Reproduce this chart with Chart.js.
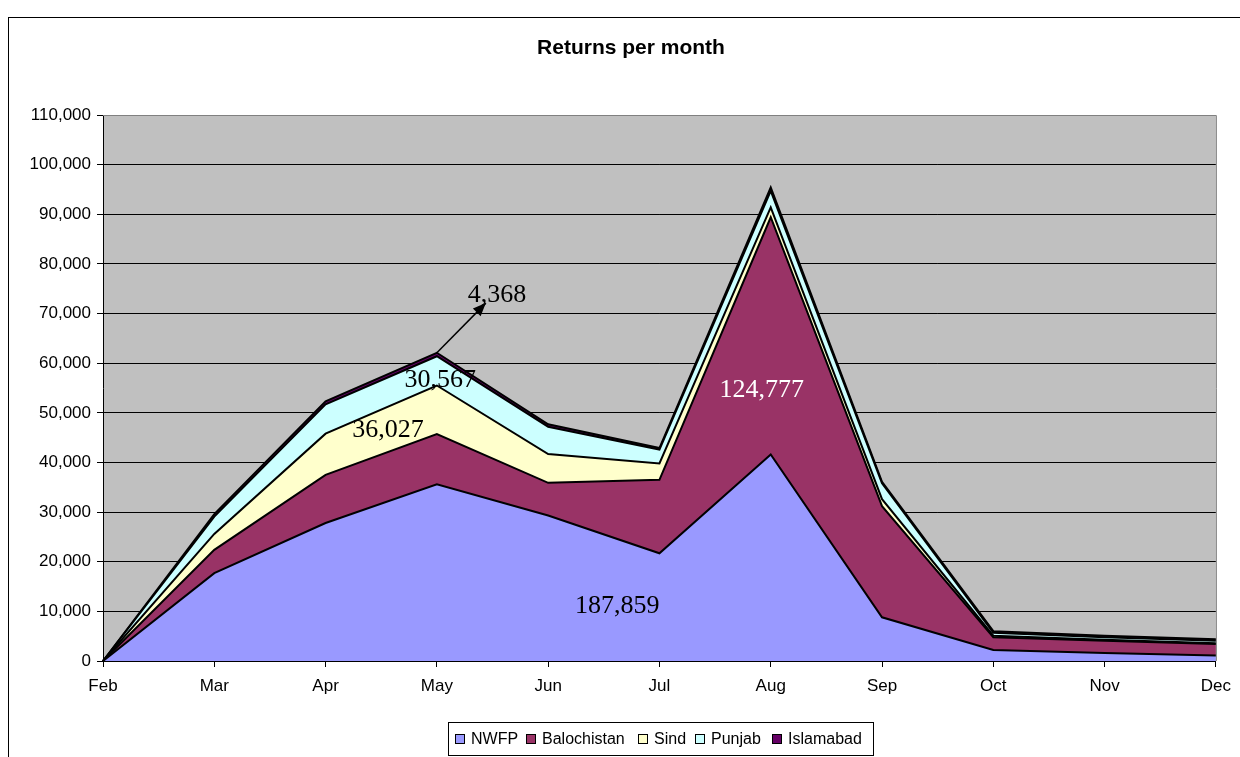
<!DOCTYPE html>
<html>
<head>
<meta charset="utf-8">
<script src="https://cdn.jsdelivr.net/npm/chart.js@4.4.1/dist/chart.umd.min.js"></script>
<style>
  html, body { margin: 0; padding: 0; background: #fff; }
  #wrap { width: 1240px; height: 757px; position: relative; }
</style>
</head>
<body>
<div id="wrap"><canvas id="returns" width="1240" height="757"></canvas></div>
<script>
const months = ['Feb', 'Mar', 'Apr', 'May', 'Jun', 'Jul', 'Aug', 'Sep', 'Oct', 'Nov', 'Dec'];

const nwfp        = [0, 17700, 27800, 35600, 29300, 21700, 41600, 8800, 2200, 1600, 1100];
const balochistan = [0, 4700, 9700, 10100, 6600, 14800, 47800, 22400, 2600, 2500, 2300];
const sind        = [0, 3200, 8300, 9800, 5800, 3300, 2000, 1400, 300, 200, 200];
const punjab      = [0, 3500, 5900, 5900, 5500, 2800, 3300, 3200, 600, 500, 500];
const islamabad   = [0, 500, 600, 700, 500, 300, 700, 300, 300, 300, 300];

// labels written on the chart: [text, month index, value, colour]
const totalsLabels = [
    ['187,859', 4.62, 11100, '#000'],
    ['124,777', 5.92, 54600, '#fff'],
    ['36,027', 2.56, 46500, '#000'],
    ['30,567', 3.03, 56600, '#000'],
    ['4,368', 3.54, 73700, '#000']
];

const seriesNames = ['NWFP', 'Balochistan', 'Sind', 'Punjab', 'Islamabad'];
const seriesColors = ['#9999ff', '#993366', '#ffffcc', '#ccffff', '#660066'];
const seriesData = [nwfp, balochistan, sind, punjab, islamabad];

Chart.defaults.font.family = '"Liberation Sans", Arial, sans-serif';
Chart.defaults.color = '#000';

const frame = {
    id: 'frame',
    beforeDraw(chart) {
        const { ctx, chartArea: a } = chart;
        ctx.save();
        ctx.fillStyle = '#fff';
        ctx.fillRect(0, 0, chart.width, chart.height);
        ctx.fillStyle = '#c0c0c0';
        ctx.fillRect(a.left, a.top, a.right - a.left, a.bottom - a.top);
        ctx.strokeStyle = '#000';
        ctx.lineWidth = 1;
        ctx.strokeRect(8.5, 17.5, 1300, 800);
        ctx.fillStyle = '#000';
        ctx.font = 'bold 21px "Liberation Sans", Arial, sans-serif';
        ctx.textAlign = 'center';
        ctx.textBaseline = 'middle';
        ctx.fillText('Returns per month', 631, 48);
        ctx.restore();
    },
    afterDraw(chart) {
        const { ctx, chartArea: a, scales } = chart;
        ctx.save();
        // plot border on right / top
        ctx.strokeStyle = '#808080';
        ctx.lineWidth = 1;
        ctx.beginPath();
        ctx.moveTo(a.left, a.top + 0.5);
        ctx.lineTo(a.right + 0.5, a.top + 0.5);
        ctx.lineTo(a.right + 0.5, a.bottom);
        ctx.stroke();

        // value labels
        ctx.font = '26px "Liberation Serif", "Times New Roman", serif';
        ctx.textAlign = 'center';
        ctx.textBaseline = 'middle';
        totalsLabels.forEach(([t, i, v, c]) => {
            ctx.fillStyle = c;
            ctx.fillText(t, scales.x.getPixelForValue(i), scales.y.getPixelForValue(v));
        });

        // arrow from May top to the Islamabad label
        const mayTop = seriesData.reduce((s, d) => s + d[3], 0);
        const x0 = scales.x.getPixelForValue(3), y0 = scales.y.getPixelForValue(mayTop);
        const x1 = scales.x.getPixelForValue(3.44), y1 = scales.y.getPixelForValue(72100);
        ctx.strokeStyle = '#000';
        ctx.fillStyle = '#000';
        ctx.lineWidth = 1.5;
        ctx.beginPath();
        ctx.moveTo(x0, y0);
        ctx.lineTo(x1, y1);
        ctx.stroke();
        const ang = Math.atan2(y1 - y0, x1 - x0);
        ctx.beginPath();
        ctx.moveTo(x1, y1);
        ctx.lineTo(x1 - 14 * Math.cos(ang - 0.4), y1 - 14 * Math.sin(ang - 0.4));
        ctx.lineTo(x1 - 14 * Math.cos(ang + 0.4), y1 - 14 * Math.sin(ang + 0.4));
        ctx.closePath();
        ctx.fill();

        // legend
        ctx.lineWidth = 1;
        ctx.strokeRect(448.5, 722.5, 425, 33);
        ctx.font = '16px "Liberation Sans", Arial, sans-serif';
        ctx.textAlign = 'left';
        const boxX = [455, 526, 638, 695, 772];
        seriesNames.forEach((n, i) => {
            ctx.fillStyle = seriesColors[i];
            ctx.fillRect(boxX[i] + 0.5, 734.5, 9, 9);
            ctx.strokeRect(boxX[i] + 0.5, 734.5, 9, 9);
            ctx.fillStyle = '#000';
            ctx.fillText(n, boxX[i] + 16, 740);
        });
        ctx.restore();
    }
};

new Chart(document.getElementById('returns'), {
    type: 'line',
    data: {
        labels: months,
        datasets: seriesData.map((d, i) => ({
            label: seriesNames[i],
            data: d,
            backgroundColor: seriesColors[i],
            borderColor: '#000',
            borderWidth: 2,
            fill: i === 0 ? 'origin' : '-1',
            tension: 0,
            pointRadius: 0
        }))
    },
    options: {
        responsive: false,
        animation: false,
        layout: { padding: { top: 115, right: 23, bottom: 56, left: 0 } },
        scales: {
            x: {
                offset: false,
                afterFit(s) { s.height = 40; },
                grid: { drawOnChartArea: false, drawTicks: true, tickLength: 6, color: '#000' },
                border: { color: '#000', width: 1 },
                ticks: { font: { size: 17 }, padding: 9, maxRotation: 0 }
            },
            y: {
                stacked: true,
                min: 0,
                max: 110000,
                afterFit(s) { s.width = 103; },
                grid: {
                    color: ctx => ctx.tick && ctx.tick.value === 110000 ? '#808080' : '#000',
                    tickColor: '#000',
                    tickLength: 6
                },
                border: { color: '#000', width: 1 },
                ticks: {
                    stepSize: 10000,
                    font: { size: 17 },
                    padding: 6,
                    callback: v => v.toLocaleString('en-US')
                }
            }
        },
        plugins: {
            legend: { display: false },
            title: { display: false },
            tooltip: { enabled: false }
        }
    },
    plugins: [frame]
});
</script>
</body>
</html>
